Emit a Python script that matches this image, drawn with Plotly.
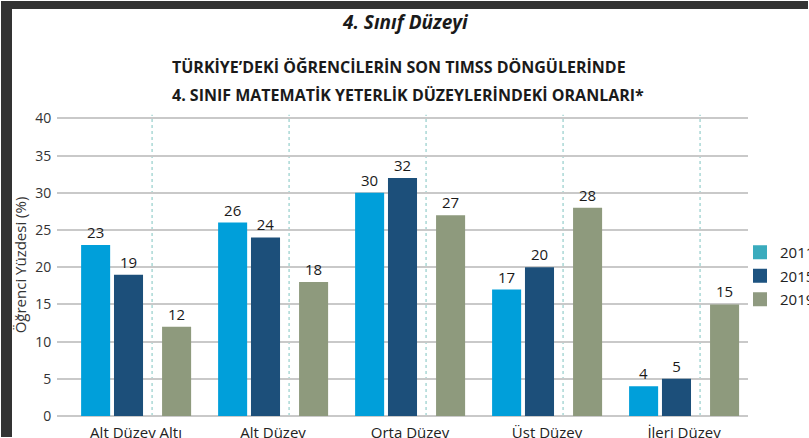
import plotly.graph_objects as go

categories = ["Alt Düzey Altı", "Alt Düzey", "Orta Düzey", "Üst Düzey", "İleri Düzey"]
years = ["2011", "2015", "2019"]
v2011 = [23, 26, 30, 17, 4]
v2015 = [19, 24, 32, 20, 5]
v2019 = [12, 18, 27, 28, 15]
y_ticks = [0, 5, 10, 15, 20, 25, 30, 35, 40]

title_text = "4. Sınıf Düzeyi"
subtitle_1 = "TÜRKİYE’DEKİ ÖĞRENCİLERİN SON TIMSS DÖNGÜLERİNDE"
subtitle_2 = "4. SINIF MATEMATİK YETERLİK DÜZEYLERİNDEKİ ORANLARI*"
y_title = "Öğrenci Yüzdesi (%)"

W, H = 809, 438
ML, MR, MT, MB = 57, 61, 114, 22
PW, PH = W - ML - MR, H - MT - MB
FONT = "Open Sans"

bar_colors = ["#009fda", "#1c4f7a", "#8e9a7d"]
legend_colors = ["#3aabbd", "#1d5380", "#8f9a80"]
bar_width = 0.212
offsets = [-0.401, -0.161, 0.190]
divider_off = 0.117
FRAME = "#333333"


def px_x(p):
    return (p - ML) / PW


def px_y(p):
    return (H - MB - p) / PH


fig = go.Figure()
for vals, col, off in zip([v2011, v2015, v2019], bar_colors, offsets):
    fig.add_trace(go.Bar(
        x=categories, y=vals, width=bar_width, offset=off,
        marker=dict(color=col, line=dict(width=0)),
        text=vals, textposition="outside", cliponaxis=False,
        textfont=dict(family=FONT, size=15, color="#1a1a1a"),
        showlegend=False, hoverinfo="skip"))

for yr, col in zip(years, legend_colors):
    fig.add_trace(go.Bar(
        x=[None], y=[None], name=yr, legendgroup=yr,
        marker=dict(color=col, line=dict(color=col, width=2)),
        showlegend=True))

shapes = []
for i in range(len(categories)):
    shapes.append(dict(type="line", xref="x", yref="y",
                       x0=i + divider_off, x1=i + divider_off, y0=0, y1=40.5,
                       line=dict(color="#7fc4c0", width=1, dash="dot"), layer="below"))
# dark frame: top band and left band (inset by one pixel from the page edge)
shapes.append(dict(type="rect", xref="paper", yref="paper",
                   x0=px_x(1), x1=px_x(W - 1), y0=px_y(9), y1=px_y(1),
                   fillcolor=FRAME, line=dict(width=0)))
shapes.append(dict(type="rect", xref="paper", yref="paper",
                   x0=px_x(1), x1=px_x(12), y0=px_y(H - 1), y1=px_y(1),
                   fillcolor=FRAME, line=dict(width=0)))

annotations = [
    dict(text="<b><i>" + title_text + "</i></b>", xref="paper", yref="paper",
         x=px_x(405), y=px_y(22), xanchor="center", yanchor="middle", showarrow=False,
         font=dict(family=FONT, size=19, color="#1a1a1a")),
    dict(text="<b>" + subtitle_1 + "</b>", xref="paper", yref="paper",
         x=px_x(170), y=px_y(67), xanchor="left", yanchor="middle", showarrow=False,
         font=dict(family=FONT, size=16, color="#1a1a1a")),
    dict(text="<b>" + subtitle_2 + "</b>", xref="paper", yref="paper",
         x=px_x(170), y=px_y(95), xanchor="left", yanchor="middle", showarrow=False,
         font=dict(family=FONT, size=16, color="#1a1a1a")),
]

fig.update_layout(
    width=W, height=H,
    margin=dict(l=ML, r=MR, t=MT, b=MB, autoexpand=False),
    paper_bgcolor="white", plot_bgcolor="white",
    barmode="overlay",
    font=dict(family=FONT, size=14, color="#333333"),
    shapes=shapes, annotations=annotations,
    legend=dict(x=px_x(740), y=px_y(276), xanchor="left", yanchor="middle",
                font=dict(family=FONT, size=15, color="#222222"),
                traceorder="grouped", tracegroupgap=1, bgcolor="rgba(0,0,0,0)"),
    xaxis=dict(range=[-0.577, 4.467], showgrid=False, showline=False,
               ticks="outside", ticklen=3, tickcolor="rgba(0,0,0,0)",
               tickfont=dict(family=FONT, size=15, color="#222222")),
    yaxis=dict(range=[0, 40.6], tickvals=y_ticks, showgrid=True, gridcolor="#c9c9c9",
               gridwidth=1.5, zeroline=True, zerolinecolor="#c9c9c9", zerolinewidth=1.5,
               showline=False, ticks="outside", ticklen=2, tickcolor="rgba(0,0,0,0)",
               tickfont=dict(family=FONT, size=14, color="#333333"),
               title=dict(text=y_title, standoff=4,
                          font=dict(family=FONT, size=15, color="#333333"))),
)

fig.write_html("out.html", config={"displayModeBar": False},
               post_script="document.body.style.margin='0';")
